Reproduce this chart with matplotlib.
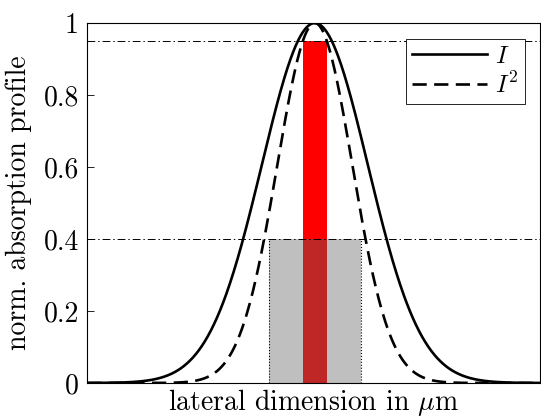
import numpy as np
import matplotlib
matplotlib.use("Agg")
import matplotlib.pyplot as plt
from matplotlib.patches import Rectangle

# lateral axis (in units of the beam sigma) and the two profiles
x = np.linspace(-4.3, 4.25, 600)
intensity = np.exp(-x**2 / 2)
intensity_sq = intensity**2

# thresholds
levels = [0.95, 0.4]
# widths of the marked regions (half widths, same units as x)
red_half = 0.226
gray_half = 0.865
yticks = [0, 0.2, 0.4, 0.6, 0.8, 1]
ytick_labels = ["0", "0.2", "0.4", "0.6", "0.8", "1"]

plt.rcParams['font.family'] = 'cmr10'
plt.rcParams['mathtext.fontset'] = 'cm'
plt.rcParams['axes.formatter.use_mathtext'] = True

fig = plt.figure(figsize=(5.41, 4.19), dpi=100)
ax = fig.add_axes([0.161, 0.086, 0.837, 0.859])

# red bar: region above the upper threshold
ax.add_patch(Rectangle((-red_half, 0), 2 * red_half, levels[0],
                       facecolor='red', edgecolor='none', zorder=1))
# gray box: region above the lower threshold
ax.add_patch(Rectangle((-gray_half, 0), 2 * gray_half, levels[1],
                       facecolor=(0.376, 0.376, 0.376), alpha=0.4,
                       edgecolor='none', zorder=2))
ax.plot([-gray_half, -gray_half], [0, levels[1]], ls=':', color='k', lw=0.8, zorder=3)
ax.plot([gray_half, gray_half], [0, levels[1]], ls=':', color='k', lw=0.8, zorder=3)

for lv in levels:
    ax.axhline(lv, color='k', lw=0.7, ls='-.', dashes=(8, 3, 1.5, 3), zorder=3)

ax.plot(x, intensity, 'k-', lw=1.9, label='$I$', zorder=4)
ax.plot(x, intensity_sq, 'k--', lw=1.9, dashes=(5.4, 2.8), label='$I^2$', zorder=4)

ax.set_xlim(x[0], x[-1])
ax.set_ylim(0, 1)
ax.set_xticks([])
ax.set_yticks(yticks)
ax.set_yticklabels(ytick_labels)
ax.tick_params(axis='y', direction='in', length=5, labelsize=20, width=0.6, pad=6)
for s in ax.spines.values():
    s.set_linewidth(0.8)
ax.set_xlabel(r'lateral dimension in $\mu$m', fontsize=20, labelpad=3)
ax.set_ylabel('norm. absorption profile', fontsize=20, labelpad=8)

leg = ax.legend(loc='upper right', bbox_to_anchor=(0.966, 0.955), fontsize=18,
                fancybox=False, framealpha=1, edgecolor='k', handlelength=3.0,
                handletextpad=0.3, borderpad=0.25, labelspacing=0.15,
                borderaxespad=0)
leg.get_frame().set_linewidth(0.6)

fig.savefig('out.png', dpi=100)
